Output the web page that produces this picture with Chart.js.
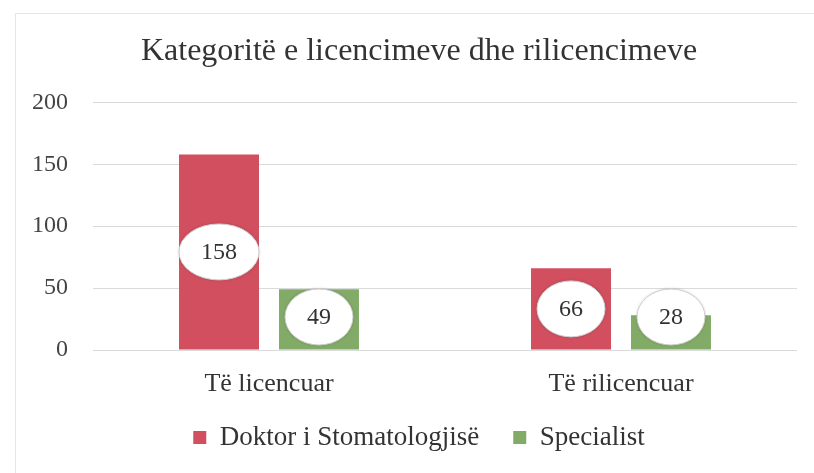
<!DOCTYPE html>
<html>
<head>
<meta charset="utf-8">
<script src="https://cdn.jsdelivr.net/npm/chart.js@4.4.0/dist/chart.umd.min.js"></script>
<style>
  body { margin: 0; background: #fff; }
  #wrap { position: relative; width: 814px; height: 473px; }
  #frame { position: absolute; left: 15px; top: 13px; right: -2px; bottom: -2px; border: 1px solid #e6e6e6; }
  canvas { position: absolute; left: 0; top: 0; }
</style>
</head>
<body>
<div id="wrap">
  <div id="frame"></div>
  <canvas id="licChart" width="814" height="473"></canvas>
</div>
<script>
// Të dhënat
const categories = ['Të licencuar', 'Të rilicencuar'];
const doktorValues = [158, 66];
const specialistValues = [49, 28];
const seriesNames = ['Doktor i Stomatologjisë', 'Specialist'];
const yTicks = [0, 50, 100, 150, 200];

const serif = "'Liberation Serif', 'DejaVu Serif', serif";
Chart.defaults.font.family = serif;
Chart.defaults.color = '#333333';

// Etiketat e vlerave në elipsa të bardha
const ovalLabels = {
    id: 'ovalLabels',
    afterLayout(chart) {
        // etiketat e boshteve nuk priten
        chart.scales.y.left = 0;
        chart.scales.x.bottom = chart.height;
    },
    afterDatasetsDraw(chart) {
        const ctx = chart.ctx;
        const bottom = chart.chartArea.bottom;
        ctx.save();
        ctx.font = '24px ' + serif;
        ctx.textAlign = 'center';
        ctx.textBaseline = 'middle';
        chart.data.datasets.forEach((ds, i) => {
            chart.getDatasetMeta(i).data.forEach((bar, j) => {
                const txt = String(ds.data[j]);
                const w = ctx.measureText(txt).width;
                const rx = Math.max(29, w / 2 + 22);
                const ry = 28;
                let cy = (bar.y + bar.base) / 2;
                if (cy > bottom - 33) cy = bottom - 33;
                ctx.beginPath();
                ctx.ellipse(bar.x, cy, rx, ry, 0, 0, Math.PI * 2);
                ctx.fillStyle = '#ffffff';
                ctx.shadowColor = 'rgba(0,0,0,0.25)';
                ctx.shadowBlur = 3;
                ctx.fill();
                ctx.shadowBlur = 0;
                ctx.strokeStyle = '#d0d0d0';
                ctx.lineWidth = 1;
                ctx.stroke();
                ctx.fillStyle = '#333333';
                ctx.fillText(txt, bar.x, cy + 1);
            });
        });
        ctx.restore();
    }
};

const ctx = document.getElementById('licChart').getContext('2d');
new Chart(ctx, {
    type: 'bar',
    data: {
        labels: categories,
        datasets: [
            {
                label: seriesNames[0],
                data: doktorValues,
                backgroundColor: '#d14f5f'
            },
            {
                label: seriesNames[1],
                data: specialistValues,
                backgroundColor: '#82ab68'
            }
        ]
    },
    options: {
        responsive: false,
        animation: false,
        // padding majtas per te qendruar titullin dhe legjenden si ne origjinal
        layout: { padding: { top: 22, right: 17, bottom: 12, left: 41 } },
        datasets: {
            bar: { categoryPercentage: 0.568, barPercentage: 0.8 }
        },
        plugins: {
            title: {
                display: true,
                text: 'Kategoritë e licencimeve dhe rilicencimeve',
                color: '#333333',
                font: { family: serif, size: 32, weight: 'normal' },
                padding: { top: 10, bottom: 32 }
            },
            legend: {
                position: 'bottom',
                labels: {
                    color: '#333333',
                    font: { family: serif, size: 27, weight: 'normal' },
                    boxWidth: 13,
                    boxHeight: 13,
                    padding: 34
                }
            },
            tooltip: { enabled: false }
        },
        scales: {
            x: {
                afterFit: function(scale) { scale.height = 40; },
                grid: { display: false, drawTicks: false },
                border: { display: false },
                ticks: {
                    color: '#333333',
                    font: { family: serif, size: 26, weight: 'normal' },
                    padding: 19
                }
            },
            y: {
                min: 0,
                max: 200,
                afterFit: function(scale) { scale.width = 52; },
                afterBuildTicks: function(scale) {
                    scale.ticks = yTicks.map(v => ({ value: v }));
                },
                grid: { color: '#dadada', drawTicks: false },
                border: { display: false },
                ticks: {
                    color: '#444444',
                    font: { family: serif, size: 24, weight: 'normal' },
                    padding: 25
                }
            }
        }
    },
    plugins: [ovalLabels]
});
</script>
</body>
</html>
